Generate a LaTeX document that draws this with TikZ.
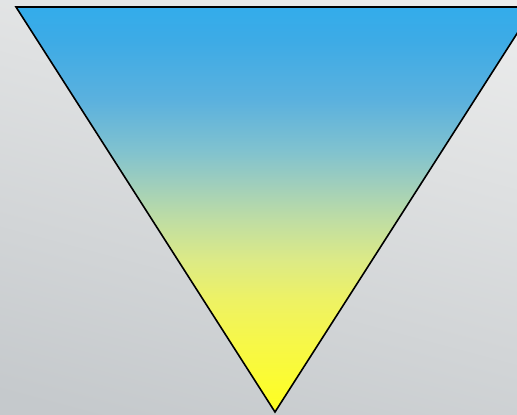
\documentclass[tikz,border=0pt]{standalone}
\usetikzlibrary{shadings}
\definecolor{bgtop}{HTML}{EBECEC}
\definecolor{bgbot}{HTML}{C5C9CC}
\definecolor{sA}{HTML}{33ACEB}
\definecolor{sB}{HTML}{3DABE6}
\definecolor{sC}{HTML}{5BB1DE}
\definecolor{sD}{HTML}{80C2CF}
\definecolor{sE}{HTML}{9CCDBE}
\definecolor{sF}{HTML}{BFDDA3}
\definecolor{sG}{HTML}{DCEA86}
\definecolor{sH}{HTML}{EEF264}
\definecolor{sI}{HTML}{F6F74A}
\definecolor{sJ}{HTML}{FFFF20}
\pgfdeclareverticalshading{trishade}{100bp}{color(0bp)=(sJ); color(25bp)=(sJ); color(33.9bp)=(sI); color(38.8bp)=(sH); color(43.8bp)=(sG); color(48.7bp)=(sF); color(53.6bp)=(sE); color(57.3bp)=(sD); color(63.5bp)=(sC); color(70.9bp)=(sB); color(75bp)=(sA); color(100bp)=(sA)}
\begin{document}
\begin{tikzpicture}[x=1pt,y=1pt]
\useasboundingbox (0,0) rectangle (517,415);
\shade[top color=bgtop, bottom color=bgbot, shading angle=-15] (-30,-30) rectangle (547,445);
\begin{scope}
\clip (0,0) rectangle (517,415);
\path[shading=trishade, draw=black, line width=1.6pt, line join=miter] (16,408) -- (534,408) -- (275,3) -- cycle;
\end{scope}
\end{tikzpicture}
\end{document}
